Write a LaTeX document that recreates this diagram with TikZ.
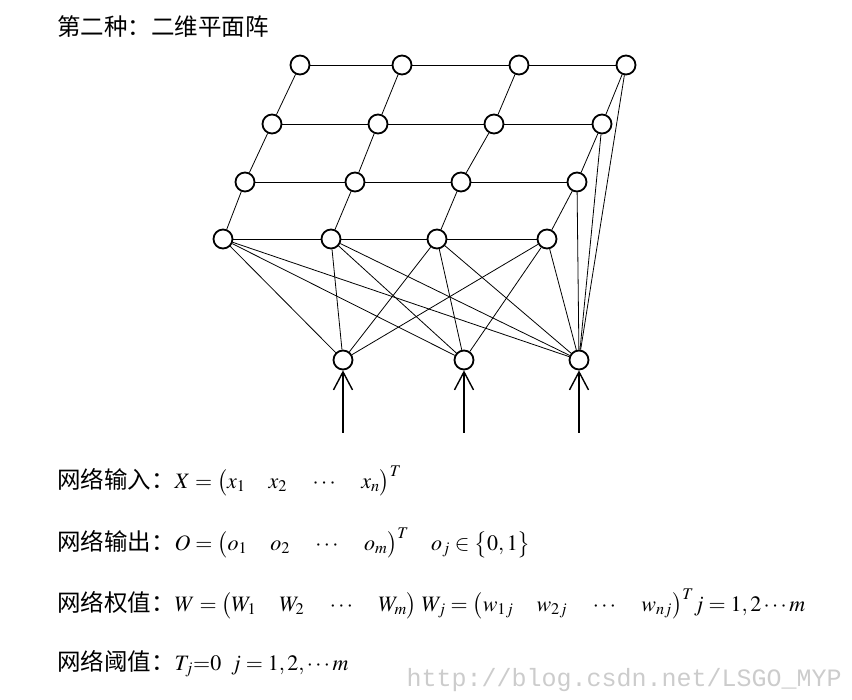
\documentclass[tikz,border=0pt]{standalone}
\usepackage{amsmath}
\usepackage{mathptmx}
\usepackage[no-math]{fontspec}
\setmainfont{Liberation Serif}
\setmonofont{Liberation Mono}
\newfontfamily\cjk{Noto Sans CJK SC}
\usetikzlibrary{arrows.meta}

\newcommand{\colgap}{\hspace{1.05em}}

\begin{document}
\begin{tikzpicture}[
            x = 1pt, y = -1pt, % pixel units, y downwards
            neuron/.style = {draw, circle, line width=1.8pt,
            minimum size=19pt, inner sep=0pt, fill=white},
            link/.style = {line width=0.8pt},
            input/.style = {line width=2.2pt,
            -{Straight Barb[length=18pt, width=19pt, line width=1.4pt]}},
            textline/.style = {anchor=west, inner sep=0pt,
            font=\fontsize{22}{24}\selectfont},
            cn/.style = {font=\cjk\fontsize{23.5}{24}\selectfont}
            ]
            \useasboundingbox (0,0) rectangle (852,700);

            \node[textline, cn] (title) at (57,27) {第二种：二维平面阵};

            % grid, row 1 (back)
            \node[neuron] (11) at (300,65) {};
            \node[neuron] (12) at (402,65) {};
            \node[neuron] (13) at (519,65) {};
            \node[neuron] (14) at (626,65) {};
            % row 2
            \node[neuron] (21) at (272,124) {};
            \node[neuron] (22) at (378,124) {};
            \node[neuron] (23) at (494,124) {};
            \node[neuron] (24) at (602,124) {};
            % row 3
            \node[neuron] (31) at (245,182) {};
            \node[neuron] (32) at (355,182) {};
            \node[neuron] (33) at (461,182) {};
            \node[neuron] (34) at (577,182) {};
            % row 4 (front)
            \node[neuron] (41) at (223,239) {};
            \node[neuron] (42) at (331,239) {};
            \node[neuron] (43) at (437,239) {};
            \node[neuron] (44) at (547,239) {};

            % inputs
            \node[neuron] (x1) at (343,360) {};
            \node[neuron] (x2) at (464,360) {};
            \node[neuron] (x3) at (579,360) {};
            \coordinate (s1) at (343,433);
            \coordinate (s2) at (464,433);
            \coordinate (s3) at (579,433);

            \path[link] (11) edge (12) (12) edge (13) (13) edge (14);
            \path[link] (21) edge (22) (22) edge (23) (23) edge (24);
            \path[link] (31) edge (32) (32) edge (33) (33) edge (34);
            \path[link] (41) edge (42) (42) edge (43) (43) edge (44);

            \path[link] (11) edge (21) (21) edge (31) (31) edge (41);
            \path[link] (12) edge (22) (22) edge (32) (32) edge (42);
            \path[link] (13) edge (23) (23) edge (33) (33) edge (43);
            \path[link] (14) edge (24) (24) edge (34) (34) edge (44);

            \path[link] (41) edge (x1) (41) edge (x2) (41) edge (x3);
            \path[link] (42) edge (x1) (42) edge (x2) (42) edge (x3);
            \path[link] (43) edge (x1) (43) edge (x2) (43) edge (x3);
            \path[link] (44) edge (x1) (44) edge (x2) (44) edge (x3);
            \path[link] (14) edge (x3) (24) edge (x3) (34) edge (x3);

            \draw[input] (s1) -- (x1);
            \draw[input] (s2) -- (x2);
            \draw[input] (s3) -- (x3);

            \node[textline] (in) at (57,481) {{\cjk\fontsize{23.5}{24}\selectfont 网络输入：}%
            $X=\bigl(x_1\colgap x_2\colgap \cdots\colgap x_n\bigr)^T$};
            \node[textline] (out) at (57,543) {{\cjk\fontsize{23.5}{24}\selectfont 网络输出：}%
            $O=\bigl(o_1\colgap o_2\colgap \cdots\colgap o_m\bigr)^T
            \quad o_j\in\bigl\{0,1\bigr\}$};
            \node[textline] (weight) at (57,604) {{\cjk\fontsize{23.5}{24}\selectfont 网络权值：}%
            $W=\bigl(W_1\colgap W_2\colgap \cdots\colgap W_m\bigr)\;
            W_j=\bigl(w_{1j}\colgap w_{2j}\colgap \cdots\colgap w_{nj}\bigr)^T
            j=1,2\cdots m$};
            \node[textline] (thresh) at (57,664) {{\cjk\fontsize{23.5}{24}\selectfont 网络阈值：}%
            $T_j{=}0\;\; j=1,2,\cdots m$};

            \node[anchor=east, inner sep=0pt, text=black!20,
            font=\fontsize{25}{25}\selectfont\ttfamily] (mark) at (842,680)
            {http://blog.csdn.net/LSGO\_MYP};
        \end{tikzpicture}
\end{document}
